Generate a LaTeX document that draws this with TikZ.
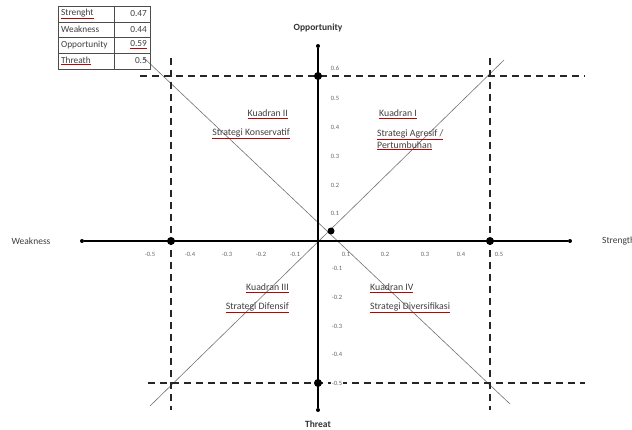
\documentclass[tikz,border=0pt]{standalone}
\usepackage{fontspec}
\setmainfont{Carlito}
\newcommand\redul[1]{\leavevmode\rlap{\color{red!75!black}\underline{\phantom{#1}}}#1}
\tikzset{
  axis/.style={line width=1.6pt, black},
  enddot/.style={circle, fill=black, inner sep=0pt, minimum size=4pt},
  bigdot/.style={circle, fill=black, inner sep=0pt, minimum size=8pt},
  dashline/.style={line width=1.1pt, dash pattern=on 7pt off 5pt, black!85},
  diag/.style={line width=0.6pt, black!55},
  tick/.style={font=\fontsize{6.5}{7}\selectfont, text=black!60, inner sep=0pt},
  quad/.style={font=\fontsize{9.8}{11}\selectfont, text=black!75, inner sep=0pt, align=left},
  axlab/.style={font=\fontsize{9.5}{10.5}\selectfont, text=black!75, inner sep=0pt},
  boldlab/.style={font=\bfseries\fontsize{9.5}{10.5}\selectfont, text=black!80, inner sep=0pt},
  tab/.style={font=\fontsize{9.3}{10}\selectfont, text=black!75, inner sep=0pt}
}
\begin{document}
\begin{tikzpicture}[x=1pt,y=-1pt]
\clip (0,0) rectangle (632,430);
\fill[white] (0,0) rectangle (632,430);
% diagonals
\coordinate (d1a) at (144,58);
\coordinate (d1b) at (510,404);
\coordinate (d2a) at (504,60);
\coordinate (d2b) at (150,406);
\draw[diag] (d1a) -- (d1b);
\draw[diag] (d2a) -- (d2b);
% dashed lines
\coordinate (tl) at (140,76); \coordinate (tr) at (585,76);
\coordinate (bl) at (148,383); \coordinate (br) at (585,383);
\coordinate (lt) at (171,58); \coordinate (lb) at (171,410);
\coordinate (rt) at (490,58); \coordinate (rb) at (490,410);
\draw[dashline] (tl) -- (tr);
\draw[dashline] (bl) -- (br);
\draw[dashline] (lt) -- (lb);
\draw[dashline] (rt) -- (rb);
% axes
\node[enddot] (L) at (82,241) {};
\node[enddot] (R) at (570,241) {};
\node[enddot] (T) at (318,46) {};
\node[enddot] (B) at (318,410) {};
\draw[axis] (L) -- (R);
\draw[axis] (T) -- (B);
% dots
\node[bigdot] (p1) at (318,76) {};
\node[bigdot] (p2) at (171,241) {};
\node[bigdot] (p3) at (490,241) {};
\node[bigdot] (p4) at (318,383) {};
\node[circle, fill=black, inner sep=0pt, minimum width=6pt, minimum height=7pt] (pt) at (331,231) {};
% axis labels
\node[boldlab] (opp) at (318,28) {Opportunity};
\node[boldlab] (thr) at (318,424) {Threat};
\node[axlab] (wk) at (31,241) {Weakness};
\node[axlab, anchor=west] (st) at (602,241) {Strength};
% x tick labels
\node[tick] (xm5) at (150,254) {-0.5};
\node[tick] (xm4) at (190,254) {-0.4};
\node[tick] (xm3) at (227,254) {-0.3};
\node[tick] (xm2) at (261,254) {-0.2};
\node[tick] (xm1) at (295,254) {-0.1};
\node[tick] (xp1) at (346,254) {0.1};
\node[tick] (xp2) at (385,254) {0.2};
\node[tick] (xp3) at (425,254) {0.3};
\node[tick] (xp4) at (461,254) {0.4};
\node[tick] (xp5) at (499,254) {0.5};
% y tick labels
\node[tick] (y6) at (335,68) {0.6};
\node[tick] (y5) at (335,98) {0.5};
\node[tick] (y4) at (335,127) {0.4};
\node[tick] (y3) at (335,156) {0.3};
\node[tick] (y2) at (335,185) {0.2};
\node[tick] (y1) at (335,213) {0.1};
\node[tick] (ym1) at (337,268) {-0.1};
\node[tick] (ym2) at (337,297) {-0.2};
\node[tick] (ym3) at (337,326) {-0.3};
\node[tick] (ym4) at (337,354) {-0.4};
\node[tick, fill=white, inner sep=1pt] (ym5) at (337,383) {-0.5};
% quadrant labels
\node[quad, anchor=east] (k2) at (288,114) {\redul{Kuadran II}};
\node[quad, anchor=east] (s2) at (290,134) {\redul{Strategi Konservatif}};
\node[quad, anchor=west] (k1) at (379,114) {\redul{Kuadran I}};
\node[quad, anchor=north west] (s1) at (377,129) {\redul{Strategi Agresif /}\\[1pt]\redul{Pertumbuhan}};
\node[quad, anchor=east] (k3) at (289,288) {\redul{Kuadran III}};
\node[quad, anchor=east] (s3) at (289,308) {\redul{Strategi Difensif}};
\node[quad, anchor=west] (k4) at (370,288) {\redul{Kuadran IV}};
\node[quad, anchor=west] (s4) at (370,308) {\redul{Strategi Diversifikasi}};
% table
\draw[black!70, line width=0.5pt] (58,6) rectangle (150,69);
\foreach \yy in {22,37,53} \draw[black!70, line width=0.5pt] (58,\yy) -- (150,\yy);
\draw[black!70, line width=0.5pt] (114,6) -- (114,69);
\node[tab, anchor=west] (t1) at (61,14) {\redul{Strenght}};
\node[tab, anchor=west] (t2) at (61,29.5) {Weakness};
\node[tab, anchor=west] (t3) at (61,45) {Opportunity};
\node[tab, anchor=west] (t4) at (61,61) {\redul{Threath}};
\node[tab, anchor=east] (v1) at (147,14) {0.47};
\node[tab, anchor=east] (v2) at (147,29.5) {0.44};
\node[tab, anchor=east] (v3) at (147,45) {\redul{0.59}};
\node[tab, anchor=east] (v4) at (147,61) {0.5};
\end{tikzpicture}
\end{document}
